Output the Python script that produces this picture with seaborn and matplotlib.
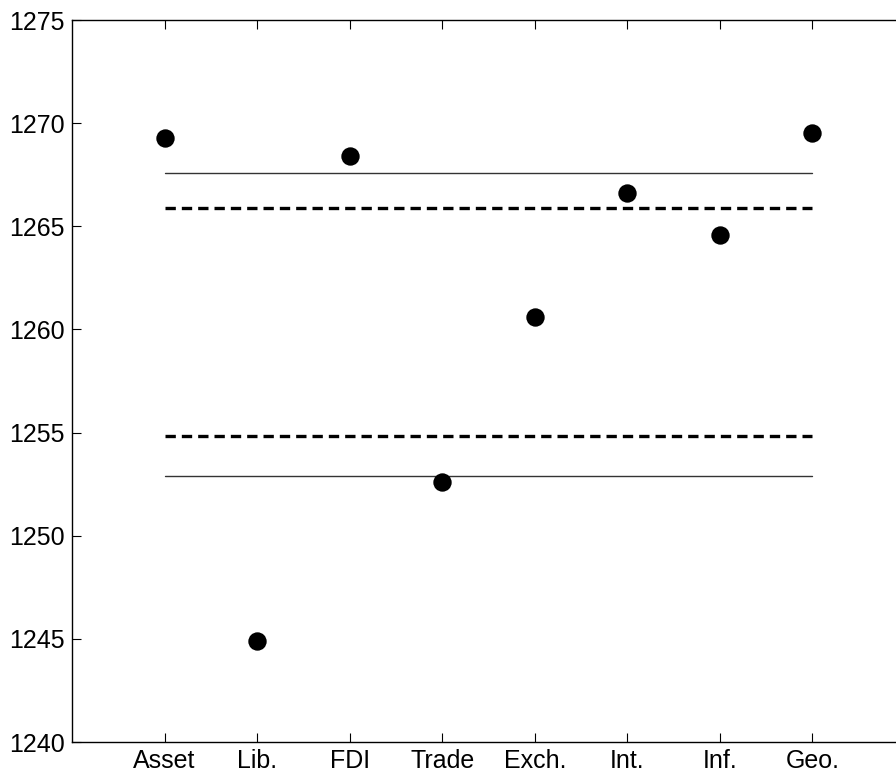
import numpy as np
import pandas as pd
import matplotlib
matplotlib.use("Agg")
import matplotlib.pyplot as plt
import seaborn as sns

# data
categories = ["Asset", "Lib.", "FDI", "Trade", "Exch.", "Int.", "Inf.", "Geo."]
values = [1269.3, 1244.9, 1268.4, 1252.6, 1260.6, 1266.6, 1264.6, 1269.5]
solid_levels = [1267.6, 1252.9]
dashed_levels = [1265.9, 1254.85]
y_ticks = [1240, 1245, 1250, 1255, 1260, 1265, 1270, 1275]

sns.set_style("ticks")
plt.rcParams["font.family"] = ["Liberation Sans", "DejaVu Sans"]

df = pd.DataFrame({"pos": np.arange(1, len(categories) + 1), "val": values})

fig = plt.figure(figsize=(8.96, 7.78), dpi=100)
# right spine sits just past the figure edge, as in the reference
ax = fig.add_axes([72 / 896, 1 - 742 / 778, (905 - 72) / 896, (742 - 20) / 778])

x0, x1 = df["pos"].min(), df["pos"].max()
for lv in solid_levels:
    ax.plot([x0, x1], [lv, lv], color="#333333", lw=1.0, zorder=1)
for lv in dashed_levels:
    ax.plot([x0, x1], [lv, lv], color="black", lw=2.4, ls=(0, (3.1, 1.8)), zorder=1)

sns.scatterplot(data=df, x="pos", y="val", ax=ax, color="black", s=175,
                edgecolor="black", linewidth=0, zorder=3, legend=False)

ax.set_xlim(0, len(categories) + 1)
ax.set_ylim(y_ticks[0], y_ticks[-1])
ax.set_xticks(df["pos"])
ax.set_xticklabels(categories)
ax.set_yticks(y_ticks)
ax.set_xlabel("")
ax.set_ylabel("")
ax.tick_params(direction="in", length=6.5, width=0.8, top=True, right=True,
               labelsize=18, pad=5, colors="black")
for sp in ax.spines.values():
    sp.set_visible(True)
    sp.set_linewidth(1.0)
    sp.set_color("black")

fig.savefig("out.png", dpi=100)
